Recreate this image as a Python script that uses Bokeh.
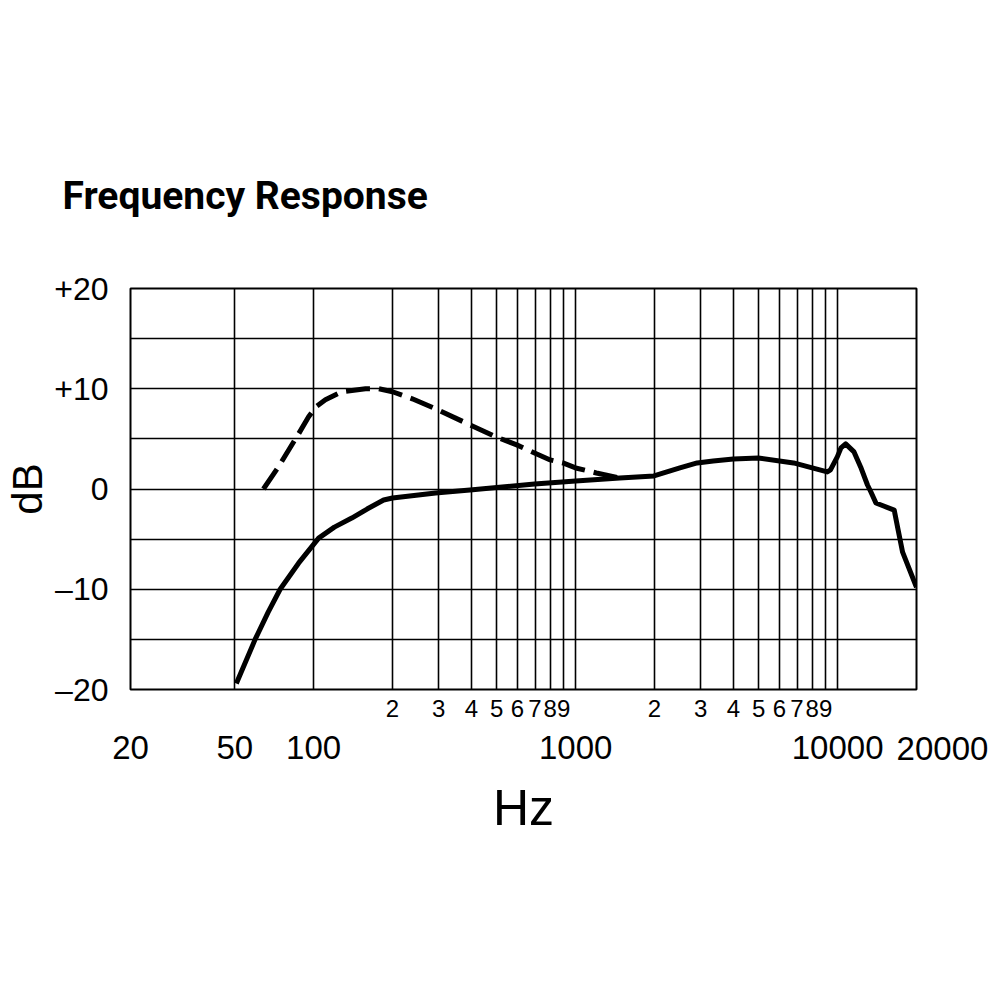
from bokeh.plotting import figure
from bokeh.models import Range1d, LogAxis, LinearAxis, FixedTicker, Label, Title
from bokeh.embed import file_html
from bokeh.resources import INLINE

# ---- data ----
solid_hz = [50.7, 59.8, 67.0, 74.5, 87.6, 104.5, 120.0, 139.8, 160.0, 185, 200, 292, 395, 697, 1000, 1474, 1990,
            2500, 2910, 3350, 4000, 4980, 6790, 8000, 9130, 9390, 9970, 10300, 10730, 11550,
            12240, 13000, 13400, 14000, 16440, 17020, 17700, 20000]
solid_db = [-19.4, -15.0, -12.3, -10.0, -7.4, -4.9, -3.8, -2.9, -2.0, -1.1, -0.9, -0.4, -0.1, 0.5, 0.8, 1.1, 1.3,
            2.1, 2.6, 2.8, 3.0, 3.1, 2.6, 2.1, 1.7, 1.9, 3.2, 4.1, 4.5, 3.7,
            2.2, 0.4, -0.3, -1.4, -2.1, -4.1, -6.3, -9.8]

dashed_hz = [64.3, 73.4, 87.6, 95.7, 102.0, 110.9, 128.3, 157.8, 177.5, 200, 237.9, 292.5, 395,
             496, 596, 697, 800, 894, 1000, 1200, 1474]
dashed_db = [0.0, 2.2, 5.5, 7.2, 8.2, 8.9, 9.7, 10.0, 10.0, 9.7, 9.0, 8.0, 6.4,
             5.2, 4.4, 3.6, 2.9, 2.6, 2.1, 1.6, 1.1]

major_hz = [20, 50, 100, 1000, 10000]
major_labels = ["20", "50", "100", "1000", "10000"]
last_hz = 20000
last_label = "20000"
minor_hz = [200, 300, 400, 500, 600, 700, 800, 900, 2000, 3000, 4000, 5000, 6000, 7000, 8000, 9000]
minor_labels = ["2", "3", "4", "5", "6", "7", "8", "9", "2", "3", "4", "5", "6", "7", "8", "9"]
grid_hz = [50, 100] + minor_hz[:8] + [1000] + minor_hz[8:] + [10000]
db_ticks = [-20, -10, 0, 10, 20]
db_labels = ["\u201320", "\u201310", "0", "+10", "+20"]
db_grid = [-15, -10, -5, 0, 5, 10, 15]

FONT = "Liberation Sans"

p = figure(width=1000, height=1000, x_axis_type="log",
           x_range=Range1d(20, 20000), y_range=Range1d(-20, 20),
           x_axis_location=None, y_axis_location=None,
           output_backend="svg", toolbar_location=None,
           min_border_left=130, min_border_right=84, min_border_top=288, min_border_bottom=311)
p.background_fill_color = "white"
p.border_fill_color = "white"
p.outline_line_color = "black"
p.outline_line_width = 2

p.xgrid.ticker = FixedTicker(ticks=grid_hz)
p.ygrid.ticker = FixedTicker(ticks=db_grid)
for g in (p.xgrid, p.ygrid):
    g.grid_line_color = "black"
    g.grid_line_width = 1.6
    g.grid_line_alpha = 1.0

# y axis
ya = LinearAxis(ticker=FixedTicker(ticks=db_ticks),
                major_label_overrides={t: l for t, l in zip(db_ticks, db_labels)})
ya.axis_line_color = None
ya.major_tick_line_color = None
ya.minor_tick_line_color = None
ya.major_tick_out = 0
ya.major_tick_in = 0
ya.major_label_standoff = 22
ya.major_label_text_font = FONT
ya.major_label_text_font_size = "32px"
ya.major_label_text_color = "black"
ya.axis_label = "dB"
ya.axis_label_text_font = FONT
ya.axis_label_text_font_size = "42px"
ya.axis_label_text_font_style = "normal"
ya.axis_label_text_color = "black"
ya.axis_label_standoff = 0
p.add_layout(ya, "left")

# minor x labels axis (closest to frame), then major labels axis
xa1 = LogAxis(ticker=FixedTicker(ticks=minor_hz),
              major_label_overrides={t: l for t, l in zip(minor_hz, minor_labels)})
xa2 = LogAxis(ticker=FixedTicker(ticks=major_hz),
              major_label_overrides={t: l for t, l in zip(major_hz, major_labels)})
for ax in (xa1, xa2):
    ax.axis_line_color = None
    ax.major_tick_line_color = None
    ax.minor_tick_line_color = None
    ax.major_tick_out = 0
    ax.major_tick_in = 0
    ax.major_label_text_font = FONT
    ax.major_label_text_color = "black"
xa1.major_label_standoff = 10
xa1.major_label_text_font_size = "24px"
xa2.major_label_standoff = 16
xa2.major_label_text_font_size = "33px"
xa2.axis_label = "Hz"
xa2.axis_label_text_font = FONT
xa2.axis_label_text_font_size = "50px"
xa2.axis_label_text_font_style = "normal"
xa2.axis_label_text_color = "black"
xa2.axis_label_standoff = 18
p.add_layout(xa1, "below")
p.add_layout(xa2, "below")

# last major label sits right of the frame edge; placed in a side panel so it is not clipped
p.add_layout(Label(x=last_hz, y=-20, x_offset=26, y_offset=-59, text=last_label,
                   text_font=FONT, text_font_size="33px", text_color="black",
                   text_align="center", text_baseline="middle"), "below")

title = Title(text="Frequency Response", align="left", offset=-68, standoff=140,
              text_font="Roboto", text_font_size="39px",
              text_font_style="bold", text_color="black")
p.add_layout(title, "above")

p.line(solid_hz, solid_db, line_color="black", line_width=5, line_join="round")
p.line(dashed_hz, dashed_db, line_color="black", line_width=5, line_dash="24 9")

open("out.html", "w").write(file_html(p, INLINE))
